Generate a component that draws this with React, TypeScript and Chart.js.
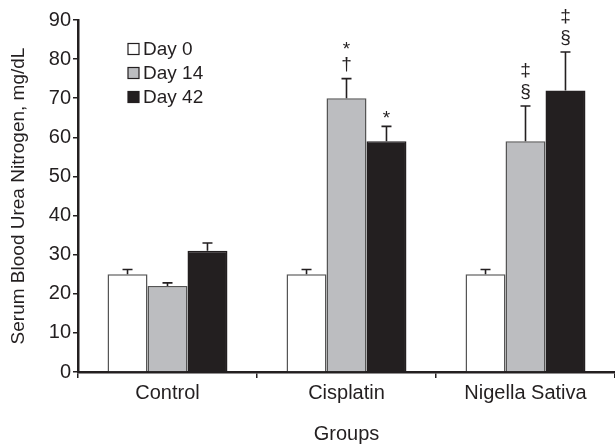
import React, { useEffect, useRef } from "react";
import { Chart, registerables } from "chart.js";

Chart.register(...registerables);

const groups = ["Control", "Cisplatin", "Nigella Sativa"];
const seriesLabels = ["Day 0", "Day 14", "Day 42"];
const day0 = [25, 25, 25];
const day14 = [22, 70, 59];
const day42 = [31, 59, 72];
const day0ErrTop = [26.2, 26.2, 26.2];
const day14ErrTop = [22.8, 75, 68];
const day42ErrTop = [33, 62.8, 81.8];
const day0Marks = [[], [], []];
const day14Marks = [[], ["†", "*"], ["§", "‡"]];
const day42Marks = [[], ["*"], ["§", "‡"]];
const yTicks = [0, 10, 20, 30, 40, 50, 60, 70, 80, 90];

const FONT = "'Liberation Sans', Arial, sans-serif";
const fills = ["#ffffff", "#bcbdc0", "#231f20"];
const borders = ["#555555", "#555555", "#231f20"];

const errTops = [day0ErrTop, day14ErrTop, day42ErrTop];
const marks = [day0Marks, day14Marks, day42Marks];

const extrasPlugin = {
  id: "extras",
  afterDatasetsDraw(chart: any) {
    const ctx = chart.ctx;
    const y = chart.scales.y;
    ctx.save();
    chart.data.datasets.forEach((ds: any, i: number) => {
      const meta = chart.getDatasetMeta(i);
      meta.data.forEach((bar: any, j: number) => {
        const top = y.getPixelForValue(errTops[i][j]);
        ctx.strokeStyle = "#231f20";
        ctx.lineWidth = 1.6;
        ctx.beginPath();
        ctx.moveTo(bar.x, bar.y);
        ctx.lineTo(bar.x, top);
        ctx.moveTo(bar.x - 5, top);
        ctx.lineTo(bar.x + 5, top);
        ctx.stroke();
        ctx.fillStyle = "#231f20";
        ctx.font = "19px " + FONT;
        ctx.textAlign = "center";
        ctx.textBaseline = "middle";
        marks[i][j].forEach((m: string, k: number) => {
          let cy = top - 14 - k * 21;
          if (m === "*") cy += 6;
          ctx.fillText(m, bar.x, cy);
        });
      });
    });
    // legend
    const left = chart.chartArea.left + 50;
    const top0 = chart.chartArea.top + 29;
    chart.data.datasets.forEach((ds: any, i: number) => {
      const cy = top0 + i * 24;
      ctx.fillStyle = fills[i];
      ctx.fillRect(left, cy - 5.5, 11, 11);
      ctx.strokeStyle = "#231f20";
      ctx.lineWidth = 1.2;
      ctx.strokeRect(left, cy - 5.5, 11, 11);
      ctx.fillStyle = "#231f20";
      ctx.font = "19px " + FONT;
      ctx.textAlign = "left";
      ctx.textBaseline = "middle";
      ctx.fillText(ds.label, left + 15, cy + 1);
    });
    ctx.restore();
  },
};

export default function App() {
  const ref = useRef<HTMLCanvasElement>(null);
  useEffect(() => {
    if (!ref.current) return;
    const chart = new Chart(ref.current, {
      type: "bar",
      data: {
        labels: groups,
        datasets: [day0, day14, day42].map((d, i) => ({
          label: seriesLabels[i],
          data: d,
          backgroundColor: fills[i],
          borderColor: borders[i],
          borderWidth: 1.5,
          barPercentage: 1,
          categoryPercentage: 0.67,
        })),
      },
      options: {
        responsive: false,
        animation: false,
        layout: { padding: { top: 20, right: 0, left: 0, bottom: 0 } },
        plugins: { legend: { display: false }, tooltip: { enabled: false } },
        scales: {
          x: {
            grid: { drawOnChartArea: false, drawTicks: true, tickLength: 6, color: "#231f20", lineWidth: 1.5, offset: true },
            border: { color: "#231f20", width: 2.5 },
            ticks: { color: "#231f20", font: { family: FONT, size: 20 }, padding: 3 },
            title: { display: true, text: "Groups", color: "#231f20", font: { family: FONT, size: 20, lineHeight: 1 }, padding: { top: 0, bottom: 1 } },
            afterFit: (s: any) => { s.height = 73; },
          },
          y: {
            min: 0,
            max: 90,
            afterBuildTicks: (s: any) => { s.ticks = yTicks.map((v) => ({ value: v })); },
            grid: { drawOnChartArea: false, drawTicks: true, tickLength: 5, color: "#231f20", lineWidth: 1.5 },
            border: { color: "#231f20", width: 2.5 },
            ticks: { color: "#231f20", font: { family: FONT, size: 20 }, padding: 2 },
            title: { display: true, text: "Serum Blood Urea Nitrogen, mg/dL", color: "#231f20", font: { family: FONT, size: 19, lineHeight: 1 }, padding: { top: 9, bottom: 9 } },
            afterFit: (s: any) => { s.width = 78; },
          },
        },
      },
      plugins: [extrasPlugin],
    });
    return () => chart.destroy();
  }, []);
  return (
    <div style={{ position: "absolute", left: 0, top: 0, width: 615, height: 445, background: "#fff" }}>
      <canvas ref={ref} width={615} height={445} />
    </div>
  );
}
